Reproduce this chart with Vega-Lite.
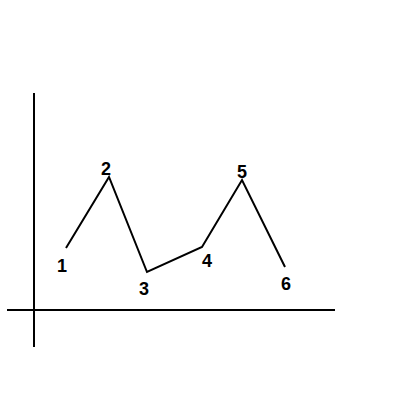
{
  "$schema": "https://vega.github.io/schema/vega-lite/v6.json",
  "width": 400,
  "height": 400,
  "autosize": "none",
  "padding": 0,
  "background": "white",
  "config": {"view": {"stroke": null}},
  "layer": [
    {
      "data": {"values": [
        {"x": -27, "x2": 301, "y": 0, "y2": 0},
        {"x": 0, "x2": 0, "y": -37, "y2": 217}
      ]},
      "mark": {"type": "rule", "color": "black", "strokeWidth": 2},
      "encoding": {
        "x": {"field": "x", "type": "quantitative", "scale": {"domain": [-34, 366], "nice": false, "zero": false}, "axis": null},
        "x2": {"field": "x2"},
        "y": {"field": "y", "type": "quantitative", "scale": {"domain": [-90, 310], "nice": false, "zero": false}, "axis": null},
        "y2": {"field": "y2"}
      }
    },
    {
      "data": {"values": [
        {"n": "1", "x": 32, "y": 62, "lx": 28, "ly": 43},
        {"n": "2", "x": 75, "y": 133, "lx": 72, "ly": 140},
        {"n": "3", "x": 113, "y": 38, "lx": 110, "ly": 20},
        {"n": "4", "x": 168, "y": 63, "lx": 173, "ly": 48},
        {"n": "5", "x": 208, "y": 130, "lx": 208, "ly": 137},
        {"n": "6", "x": 251, "y": 43, "lx": 252, "ly": 25}
      ]},
      "layer": [
        {
          "mark": {"type": "line", "color": "black", "strokeWidth": 2},
          "encoding": {
            "x": {"field": "x", "type": "quantitative", "scale": {"domain": [-34, 366], "nice": false, "zero": false}, "axis": null},
            "y": {"field": "y", "type": "quantitative", "scale": {"domain": [-90, 310], "nice": false, "zero": false}, "axis": null},
            "order": {"field": "n"}
          }
        },
        {
          "mark": {"type": "text", "font": "Liberation Sans", "fontWeight": "bold", "fontSize": 18, "align": "center", "baseline": "middle", "color": "black"},
          "encoding": {
            "x": {"field": "lx", "type": "quantitative", "scale": {"domain": [-34, 366], "nice": false, "zero": false}, "axis": null},
            "y": {"field": "ly", "type": "quantitative", "scale": {"domain": [-90, 310], "nice": false, "zero": false}, "axis": null},
            "text": {"field": "n"}
          }
        }
      ]
    }
  ]
}
